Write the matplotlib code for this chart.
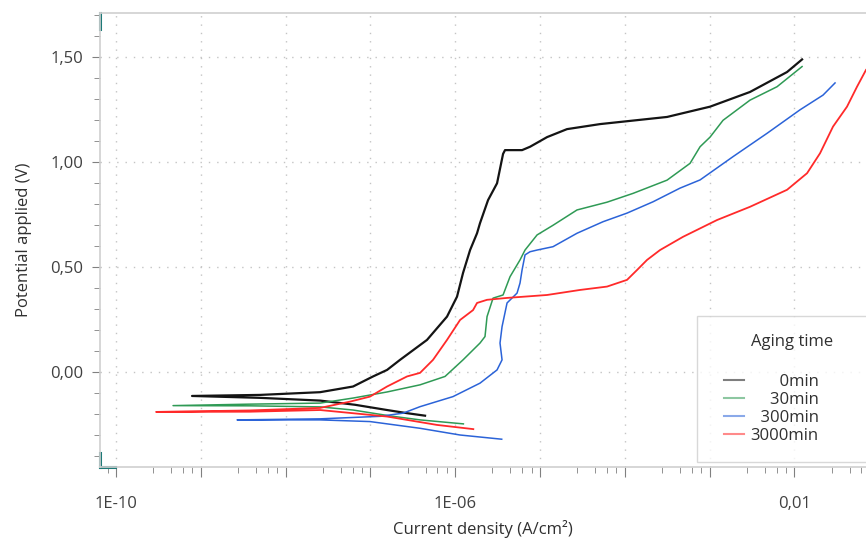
"""Potentiodynamic polarization curves for different aging times."""

import matplotlib

matplotlib.use("Agg")
import matplotlib.pyplot as plt
import matplotlib.ticker as ticker
import numpy as np
from matplotlib.legend_handler import HandlerLine2D

plt.rcParams["font.family"] = ["Open Sans", "DejaVu Sans"]

# log10 of current density (A/cm2) and potential (V).
# Each curve runs from the cathodic end, through Ecorr, up the anodic branch.
log_i_0min = [
    -6.356, -6.568, -6.804, -7.182, -7.594, -8.302, -9.104,
    -8.302, -7.594, -7.205, -6.969, -6.804, -6.651, -6.333, -6.097, -5.979,
    -5.908, -5.825, -5.743, -5.708, -5.613, -5.507, -5.436, -5.413, -5.212,
    -5.118, -4.917, -4.682, -4.292, -3.502, -2.995, -2.524, -2.087, -1.910,
]
e_0min = [
    -0.207, -0.195, -0.180, -0.155, -0.135, -0.122, -0.113,
    -0.108, -0.095, -0.068, -0.020, 0.011, 0.059, 0.154, 0.265, 0.360,
    0.473, 0.582, 0.662, 0.710, 0.820, 0.900, 1.040, 1.058, 1.058,
    1.074, 1.120, 1.158, 1.182, 1.216, 1.265, 1.335, 1.430, 1.490,
]

log_i_30min = [
    -5.904, -6.415, -6.769, -7.205, -7.594, -8.420, -9.328,
    -8.420, -7.594, -7.205, -6.804, -6.415, -6.120, -5.908, -5.708, -5.649,
    -5.625, -5.554, -5.436, -5.354, -5.236, -5.177, -5.035, -4.847, -4.564,
    -4.210, -3.903, -3.502, -3.231, -3.113, -2.995, -2.842, -2.524, -2.205,
    -1.910,
]
e_30min = [
    -0.246, -0.227, -0.208, -0.180, -0.165, -0.160, -0.159,
    -0.152, -0.147, -0.123, -0.094, -0.060, -0.020, 0.059, 0.139, 0.170,
    0.265, 0.353, 0.368, 0.455, 0.535, 0.582, 0.654, 0.700, 0.773,
    0.810, 0.852, 0.915, 0.995, 1.074, 1.120, 1.200, 1.296, 1.360,
    1.456,
]

log_i_300min = [
    -5.452, -5.943, -6.415, -7.005, -7.594, -8.573,
    -7.594, -6.887, -6.616, -6.415, -6.026, -5.708, -5.507, -5.448, -5.472,
    -5.448, -5.389, -5.271, -5.236, -5.212, -5.177, -5.118, -5.035, -4.847,
    -4.564, -4.257, -3.974, -3.667, -3.349, -3.113, -2.724, -2.323, -1.934,
    -1.663, -1.521,
]
e_300min = [
    -0.319, -0.299, -0.267, -0.235, -0.227, -0.227,
    -0.222, -0.210, -0.195, -0.164, -0.116, -0.052, 0.011, 0.059, 0.139,
    0.217, 0.330, 0.377, 0.425, 0.487, 0.559, 0.574, 0.582, 0.598,
    0.662, 0.717, 0.758, 0.812, 0.877, 0.916, 1.027, 1.138, 1.250,
    1.320, 1.378,
]

log_i_3000min = [
    -5.787, -6.215, -6.804, -7.594, -8.420, -9.528,
    -8.420, -7.594, -7.241, -7.005, -6.804, -6.568, -6.415, -6.262, -6.097,
    -5.943, -5.790, -5.743, -5.625, -5.389, -4.917, -4.528, -4.210, -3.974,
    -3.856, -3.738, -3.585, -3.314, -2.913, -2.524, -2.087, -1.851, -1.698,
    -1.545, -1.380, -1.262, -1.156,
]
e_3000min = [
    -0.271, -0.251, -0.211, -0.180, -0.188, -0.189,
    -0.182, -0.170, -0.140, -0.116, -0.068, -0.020, -0.003, 0.059, 0.154,
    0.249, 0.296, 0.330, 0.345, 0.354, 0.368, 0.392, 0.408, 0.440,
    0.487, 0.535, 0.582, 0.645, 0.725, 0.788, 0.869, 0.948, 1.043,
    1.170, 1.265, 1.360, 1.440,
]

labels = ["0min", "30min", "300min", "3000min"]
colors = ["#141414", "#2f9a55", "#2b63d8", "#ff2a2a"]
widths = [1.6, 1.1, 1.1, 1.3]

curves = [
    (log_i_0min, e_0min),
    (log_i_30min, e_30min),
    (log_i_300min, e_300min),
    (log_i_3000min, e_3000min),
]

fig = plt.figure(figsize=(8.66, 5.43), dpi=100)
ax = fig.add_axes([0.1155, 0.1405, 0.8845, 0.8355])

# pad labels with figure spaces so they read right-aligned
width = max(len(s) for s in labels)
for (log_i, e), lab, col, lw in zip(curves, labels, colors, widths):
    ax.plot(10 ** np.array(log_i), e, color=col, lw=lw,
            label="\u2007" * (width - len(lab)) + lab)

ax.set_xscale("log")
ax.set_xlim(10 ** -10.189, 10 ** -1.156)
ax.set_ylim(-0.45, 1.711)

ax.xaxis.set_major_locator(ticker.LogLocator(base=10, numticks=20))
ax.xaxis.set_minor_locator(
    ticker.LogLocator(base=10, subs=(2.75, 4.47, 6.17, 7.94), numticks=20))


def xfmt(v, pos):
    p = int(round(np.log10(v)))
    if p == -10:
        return "1E-10"
    if p == -6:
        return "1E-06"
    if p == -2:
        return "0,01"
    return ""


ax.xaxis.set_major_formatter(ticker.FuncFormatter(xfmt))
ax.xaxis.set_minor_formatter(ticker.NullFormatter())

ax.yaxis.set_major_locator(ticker.MultipleLocator(0.5))
ax.yaxis.set_minor_locator(ticker.MultipleLocator(0.1))
ax.yaxis.set_major_formatter(
    ticker.FuncFormatter(lambda v, pos: f"{v:.2f}".replace(".", ",")
                         if v > -0.25 else ""))

ax.grid(True, which="major", color="#c4c4c4", linestyle=(0, (1, 5)), lw=1.0)

for side in ("left", "top", "bottom"):
    ax.spines[side].set_color("#d0d0d0")
    ax.spines[side].set_linewidth(1.2)
ax.spines["right"].set_visible(False)

ax.tick_params(axis="both", which="both", colors="#808080",
               labelcolor="#404040", labelsize=12)
ax.tick_params(axis="y", which="major", length=6, pad=6)
ax.tick_params(axis="y", which="minor", length=4)
ax.tick_params(axis="x", which="major", length=7, pad=14)
ax.tick_params(axis="x", which="minor", length=4)

ax.set_xlabel("Current density (A/cm²)", fontsize=12, color="#303030",
              labelpad=6)
ax.set_ylabel("Potential applied (V)", fontsize=12, color="#303030",
              labelpad=13)

# teal cursor marks at the plot corners
teal = "#1e7a78"
ax.plot([0, 0], [0.0, 0.03], color=teal, lw=2.2, transform=ax.transAxes,
        clip_on=False)
ax.plot([0, 0.02], [0.0, 0.0], color=teal, lw=2.2, transform=ax.transAxes,
        clip_on=False)
ax.plot([0, 0], [0.965, 1.0], color=teal, lw=2.2, transform=ax.transAxes,
        clip_on=False)

# legend box runs past the right edge of the picture, as in the source
leg = ax.legend(title="Aging time", loc="upper left", mode="expand",
                bbox_to_anchor=(697 / 866, 0, 190 / 866, 1 - 316 / 543),
                bbox_transform=fig.transFigure, fontsize=12,
                title_fontsize=12, frameon=True, fancybox=False,
                edgecolor="#cfcfcf", borderpad=1.1, handlelength=1.7,
                handletextpad=0.42, labelspacing=0.12, borderaxespad=0,
                handler_map={plt.Line2D: HandlerLine2D(xpad=0.5)})
leg.get_frame().set_linewidth(1.0)
leg._legend_box.sep = 17
for h in leg.legend_handles:
    h.set_alpha(0.55)
    h.set_linewidth(1.5)
for t in leg.get_texts():
    t.set_color("#303030")
leg.get_title().set_color("#303030")

fig.savefig("out.png", dpi=100)
